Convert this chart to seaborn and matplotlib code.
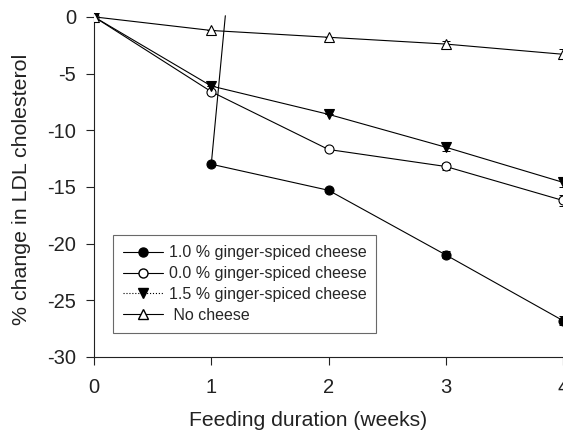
import matplotlib
matplotlib.use("Agg")
import matplotlib.pyplot as plt
from matplotlib.lines import Line2D
import seaborn as sns

# feeding duration (weeks)
weeks = [0, 1, 2, 3, 4]

# % change in LDL cholesterol
cheese_10 = [0.0, -13.0, -15.3, -21.0, -26.8]
cheese_00 = [0.0, -6.6, -11.7, -13.2, -16.2]
cheese_15 = [0.0, -6.1, -8.6, -11.5, -14.6]
no_cheese = [0.0, -1.2, -1.8, -2.4, -3.3]

# small error bars (only visible at weeks 3 and 4)
err_10 = [0, 0, 0, 0.3, 0.4]
err_00 = [0, 0, 0, 0.3, 0.5]
err_15 = [0, 0, 0, 0.3, 0.45]
err_no = [0, 0, 0, 0.3, 0.45]

# stray segment in the original figure (1.0 % series)
stray_x = [1.0, 1.12]
stray_y = [-13.0, 0.1]

labels = ["1.0 % ginger-spiced cheese", "0.0 % ginger-spiced cheese",
          "1.5 % ginger-spiced cheese", " No cheese"]

sns.set_style("ticks")
plt.rcParams["font.family"] = ["Liberation Sans", "DejaVu Sans"]
plt.rcParams["axes.unicode_minus"] = False

fig = plt.figure(figsize=(5.63, 4.30), dpi=100)
ax = fig.add_axes([0.167, 0.170, 0.833, 0.80])

series = [
    (cheese_10, err_10, "o", "black"),
    (cheese_00, err_00, "o", "white"),
    (cheese_15, err_15, "v", "black"),
    (no_cheese, err_no, "^", "white"),
]
for vals, err, mk, fc in series:
    ax.errorbar(weeks, vals, yerr=err, fmt="none", ecolor="black",
                elinewidth=0.7, capsize=3, capthick=0.7, zorder=2)
for i, (vals, err, mk, fc) in enumerate(series):
    if i == 0:
        # the 1.0 % line does not connect week 0 to week 1
        sns.lineplot(x=weeks[1:], y=vals[1:], ax=ax, color="black", lw=0.8,
                     marker=mk, markersize=6.5, markerfacecolor=fc,
                     markeredgecolor="black", markeredgewidth=0.8, zorder=3)
    else:
        sns.lineplot(x=weeks, y=vals, ax=ax, color="black", lw=0.8,
                     marker=mk, markersize=6.5, markerfacecolor=fc,
                     markeredgecolor="black", markeredgewidth=0.8, zorder=3)
ax.plot(stray_x, stray_y, color="black", lw=0.8, zorder=2)

ax.set_xlim(0, 4.0)
ax.set_ylim(-30, 0.35)
ax.set_xticks(weeks)
ax.set_yticks([0, -5, -10, -15, -20, -25, -30])
ax.tick_params(axis="both", labelsize=14.5, length=6, width=0.8, colors="#222222",
               labelcolor="#222222")
ax.tick_params(axis="x", pad=9)
ax.tick_params(axis="y", pad=7)
ax.set_xlabel("Feeding duration (weeks)", fontsize=15.2, color="#222222")
ax.set_ylabel("% change in LDL cholesterol", fontsize=15.4, color="#222222")
ax.xaxis.set_label_coords(0.457, -0.157)
ax.yaxis.set_label_coords(-0.134, 0.488)
sns.despine(ax=ax)
for s in ["left", "bottom"]:
    ax.spines[s].set_linewidth(0.8)
    ax.spines[s].set_color("#222222")

handles = [
    Line2D([], [], color="black", lw=0.8, marker="o", markersize=6.5,
           markerfacecolor="black", markeredgecolor="black"),
    Line2D([], [], color="black", lw=0.8, marker="o", markersize=6.5,
           markerfacecolor="white", markeredgecolor="black"),
    Line2D([], [], color="black", lw=0.8, ls=":", marker="v", markersize=6.5,
           markerfacecolor="black", markeredgecolor="black"),
    Line2D([], [], color="black", lw=0.8, marker="^", markersize=6.5,
           markerfacecolor="white", markeredgecolor="black"),
]
leg = ax.legend(handles, labels, loc="lower left", bbox_to_anchor=(0.040, 0.070),
                borderaxespad=0, fontsize=11.5, frameon=True, fancybox=False,
                handlelength=2.5, handletextpad=0.38, labelspacing=0.37,
                borderpad=0.62)
leg.get_frame().set_edgecolor("#444444")
leg.get_frame().set_linewidth(0.8)

fig.savefig("out.png", dpi=100)
